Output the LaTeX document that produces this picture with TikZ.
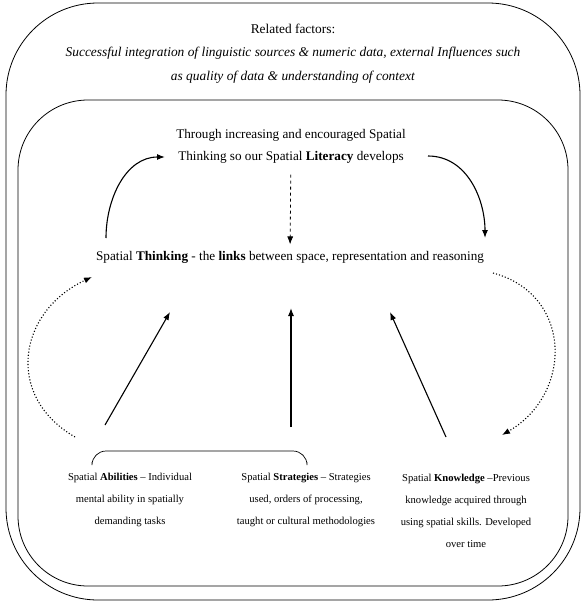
\documentclass[tikz,border=0pt]{standalone}
\usepackage{fontspec}
\setmainfont{Liberation Serif}
\usepackage{tikz}
\usetikzlibrary{arrows.meta}

\begin{document}
\begin{tikzpicture}[x=1pt,y=1pt,>={Latex[length=8pt,width=6pt]},
    txt/.style={align=center,font=\fontsize{13.2}{22}\selectfont},
    small/.style={align=center,font=\fontsize{10.6}{22}\selectfont},
    thick/.style={line width=1.1pt}]
    \useasboundingbox (0,0) rectangle (587,-605);

    %% frames
    \draw[line width=0.8pt,rounded corners=92pt] (6,-3) rectangle (580,-600);
    \draw[line width=0.8pt,rounded corners=70pt] (18,-100) rectangle (568,-586);

    \node[txt,font=\fontsize{13.4}{23.5}\selectfont] (factors) at (293,-53.5) {Related factors:\\
      \textit{Successful integration of linguistic sources \& numeric data, external Influences such}\\
      \textit{as quality of data \& understanding of context}};
    \node[txt] (lit) at (291,-146) {Through increasing and encouraged Spatial\\
      Thinking so our Spatial \textbf{Literacy} develops};
    \node[txt] (think) at (290,-257) {Spatial \textbf{Thinking} - the \textbf{links} between space, representation and reasoning};
    \node[small] (abil) at (130,-500) {Spatial \textbf{Abilities} -- Individual\\mental ability in spatially\\demanding tasks};
    \node[small] (strat) at (306,-500) {Spatial \textbf{Strategies} -- Strategies\\used, orders of processing,\\taught or cultural methodologies};
    \node[small] (know) at (466,-511) {Spatial \textbf{Knowledge} --Previous\\knowledge acquired through\\using spatial skills. Developed\\over time};

    %% loose ends
    \coordinate (l1) at (106,-238);
    \coordinate (l2) at (165,-157);
    \coordinate (r1) at (428,-156);
    \coordinate (r2) at (485,-238);
    \coordinate (dl1) at (75,-437);
    \coordinate (dl2) at (92,-277);
    \coordinate (dr1) at (493,-273);
    \coordinate (dr2) at (502,-435);
    \coordinate (a1) at (105,-425);
    \coordinate (a2) at (170,-312);
    \coordinate (b1) at (291,-427);
    \coordinate (b2) at (291,-308);
    \coordinate (c1) at (446,-437);
    \coordinate (c2) at (390,-312);

    %% literacy loop
    \draw[dashed,line width=0.8pt,->,shorten <=8pt,shorten >=3pt] (lit) -- (think);
    \draw[thick,->] (l1) to[out=90,in=180] (l2);
    \draw[thick,->] (r1) to[out=0,in=90] (r2);
    %% feedback
    \draw[dotted,thick,->] (dl1) to[out=150,in=205,looseness=1.3] (dl2);
    \draw[dotted,thick,->] (dr1) to[out=-15,in=30,looseness=1.3] (dr2);
    %% components
    \draw[thick,->] (a1) -- (a2);
    \draw[thick,->] (b1) -- (b2);
    \draw[thick,->] (c1) -- (c2);
    %% bracket
    \draw[line width=0.7pt,rounded corners=14pt] (92,-462) |- (307,-451) -- (307,-462);
\end{tikzpicture}
\end{document}
